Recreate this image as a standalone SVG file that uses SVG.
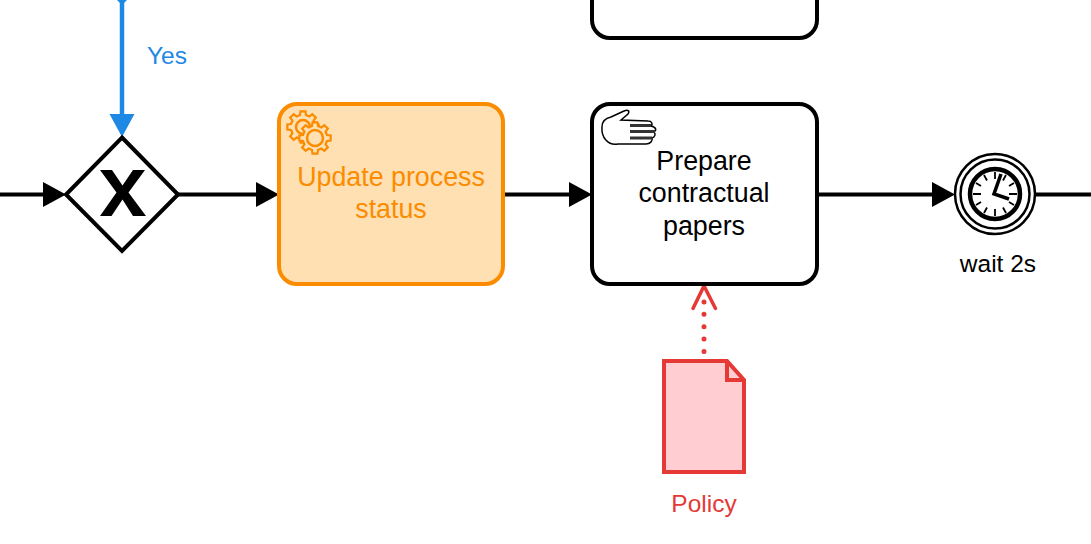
<svg xmlns="http://www.w3.org/2000/svg" width="1091" height="544" viewBox="0 0 1091 544">
<style>
text{font-family:"Liberation Sans",Arial,sans-serif;font-size:26.800px;text-anchor:middle}
text.small{font-size:24.500px}
.flow{fill:none;stroke:#000;stroke-width:4}
.task{stroke-width:4}
</style>
<defs>
<polygon id="gear" points="17.8,-2.8 17.8,2.8 13.6,3.4 12,7.2 14.6,10.6 10.6,14.6 7.2,12 3.4,13.6 2.8,17.8 -2.8,17.8 -3.4,13.6 -7.2,12 -10.6,14.6 -14.6,10.6 -12,7.2 -13.6,3.4 -17.8,2.8 -17.8,-2.8 -13.6,-3.4 -12,-7.2 -14.6,-10.6 -10.6,-14.6 -7.2,-12 -3.4,-13.6 -2.8,-17.8 2.8,-17.8 3.4,-13.6 7.2,-12 10.6,-14.6 14.6,-10.6 12,-7.2 13.6,-3.4"/>
</defs>
<rect width="1091" height="544" fill="#fff"/>
<g id="connectors">
<path class="flow" d="M0 194.500H46"/>
<polygon points="66,194.500 43,182 43,207"/>
<path class="flow" d="M178 194.500H258"/>
<polygon points="279,194.500 256,182 256,207"/>
<path class="flow" d="M503 194.500H571"/>
<polygon points="592,194.500 569,182 569,207"/>
<path class="flow" d="M817 194.500H934"/>
<polygon points="955,194.500 932,182 932,207"/>
<path class="flow" d="M1035 194.500H1091"/>
<path d="M122 0V116" fill="none" stroke="#1e88e5" stroke-width="4.500"/>
<polygon points="115,-2 122,5 129,-2" fill="#1e88e5"/>
<polygon points="122,137 109.500,114 134.500,114" fill="#1e88e5"/>
<text class="small" x="167" y="64" fill="#1e88e5">Yes</text>
<path d="M704 351.500V298" fill="none" stroke="#e53935" stroke-width="5" stroke-linecap="round" stroke-dasharray="0 12.400"/>
<path d="M693 308.500L704 286L715.500 308.500" fill="none" stroke="#e53935" stroke-width="3.500" stroke-linecap="round"/>
</g>
<g id="gateway">
<polygon points="122,137.500 178,194.500 122,251 66,194.500" fill="#fff" stroke="#000" stroke-width="4"/>
<polygon points="100,170 112,170 122.500,185.500 133,170 145,170 128.500,192.500 146,216 133,216 122.500,199.500 111.500,216 100,216 116.500,192.500"/>
</g>
<g id="task-top">
<path class="task" d="M592 0V20a18 18 0 0 0 18 18H799a18 18 0 0 0 18-18V0" fill="#fff" stroke="#000"/>
</g>
<g id="task-update">
<rect class="task" x="279" y="104" width="224" height="180" rx="18" fill="#ffe0b2" stroke="#fb8c00"/>
<g fill="#ffe0b2" stroke="#fb8c00" stroke-width="2.500">
<use href="#gear" transform="translate(303 127) scale(.88)"/>
<circle cx="303" cy="127" r="7"/>
<use href="#gear" transform="translate(315 138) scale(.88)"/>
<circle cx="315" cy="138" r="8"/>
</g>
<text x="391" y="186" fill="#fb8c00">Update process</text>
<text x="391" y="218" fill="#fb8c00">status</text>
</g>
<g id="task-prepare">
<rect class="task" x="592" y="104" width="225" height="180" rx="18" fill="#fff" stroke="#000"/>
<path d="M602 127C602 121 606 118 611 117L624 111C628 109 630 111 628 114L621 120L648 121C652 121 653 124 651 126C656 127 657 130 654 132C656 134 655 137 652 138C653 141 650 144 646 144L618 144C608 146 601 137 602 127Z" fill="#fff" stroke="#000" stroke-width="1.500"/>
<path d="M630 125.500H651M630 131.500H655M630 138H652" stroke="#333" stroke-width="3" fill="none"/>
<text x="704" y="170">Prepare</text>
<text x="704" y="202">contractual</text>
<text x="704" y="234.500">papers</text>
</g>
<g id="timer">
<circle cx="995" cy="194" r="40" fill="#fff" stroke="#000" stroke-width="2.500"/>
<circle cx="995" cy="194" r="34.500" fill="#fff" stroke="#000" stroke-width="2.500"/>
<circle cx="995" cy="194" r="25" fill="#fff" stroke="#000" stroke-width="4.500"/>
<path stroke="#000" stroke-width="1.800" d="M995 172V179M995 209V216M973 194H981M1009 194H1017M984 175L987 180.500M1006 175L1003 180.500M984 213L987 207.500M1006 213L1003 207.500M976 183L981 186M1014 183L1009 186M976 205L981 202M1014 205L1009 202"/>
<path d="M1001 174L994 194L1009 199" fill="none" stroke="#000" stroke-width="3.500"/>
<text class="small" x="998" y="272">wait 2s</text>
</g>
<g id="policy">
<path d="M664 361H727L744 380V472H664Z" fill="#ffcdd2" stroke="#e53935" stroke-width="4"/>
<path d="M727 361V380H744" fill="none" stroke="#e53935" stroke-width="4"/>
<text class="small" x="704" y="512" fill="#e53935">Policy</text>
</g>
</svg>
